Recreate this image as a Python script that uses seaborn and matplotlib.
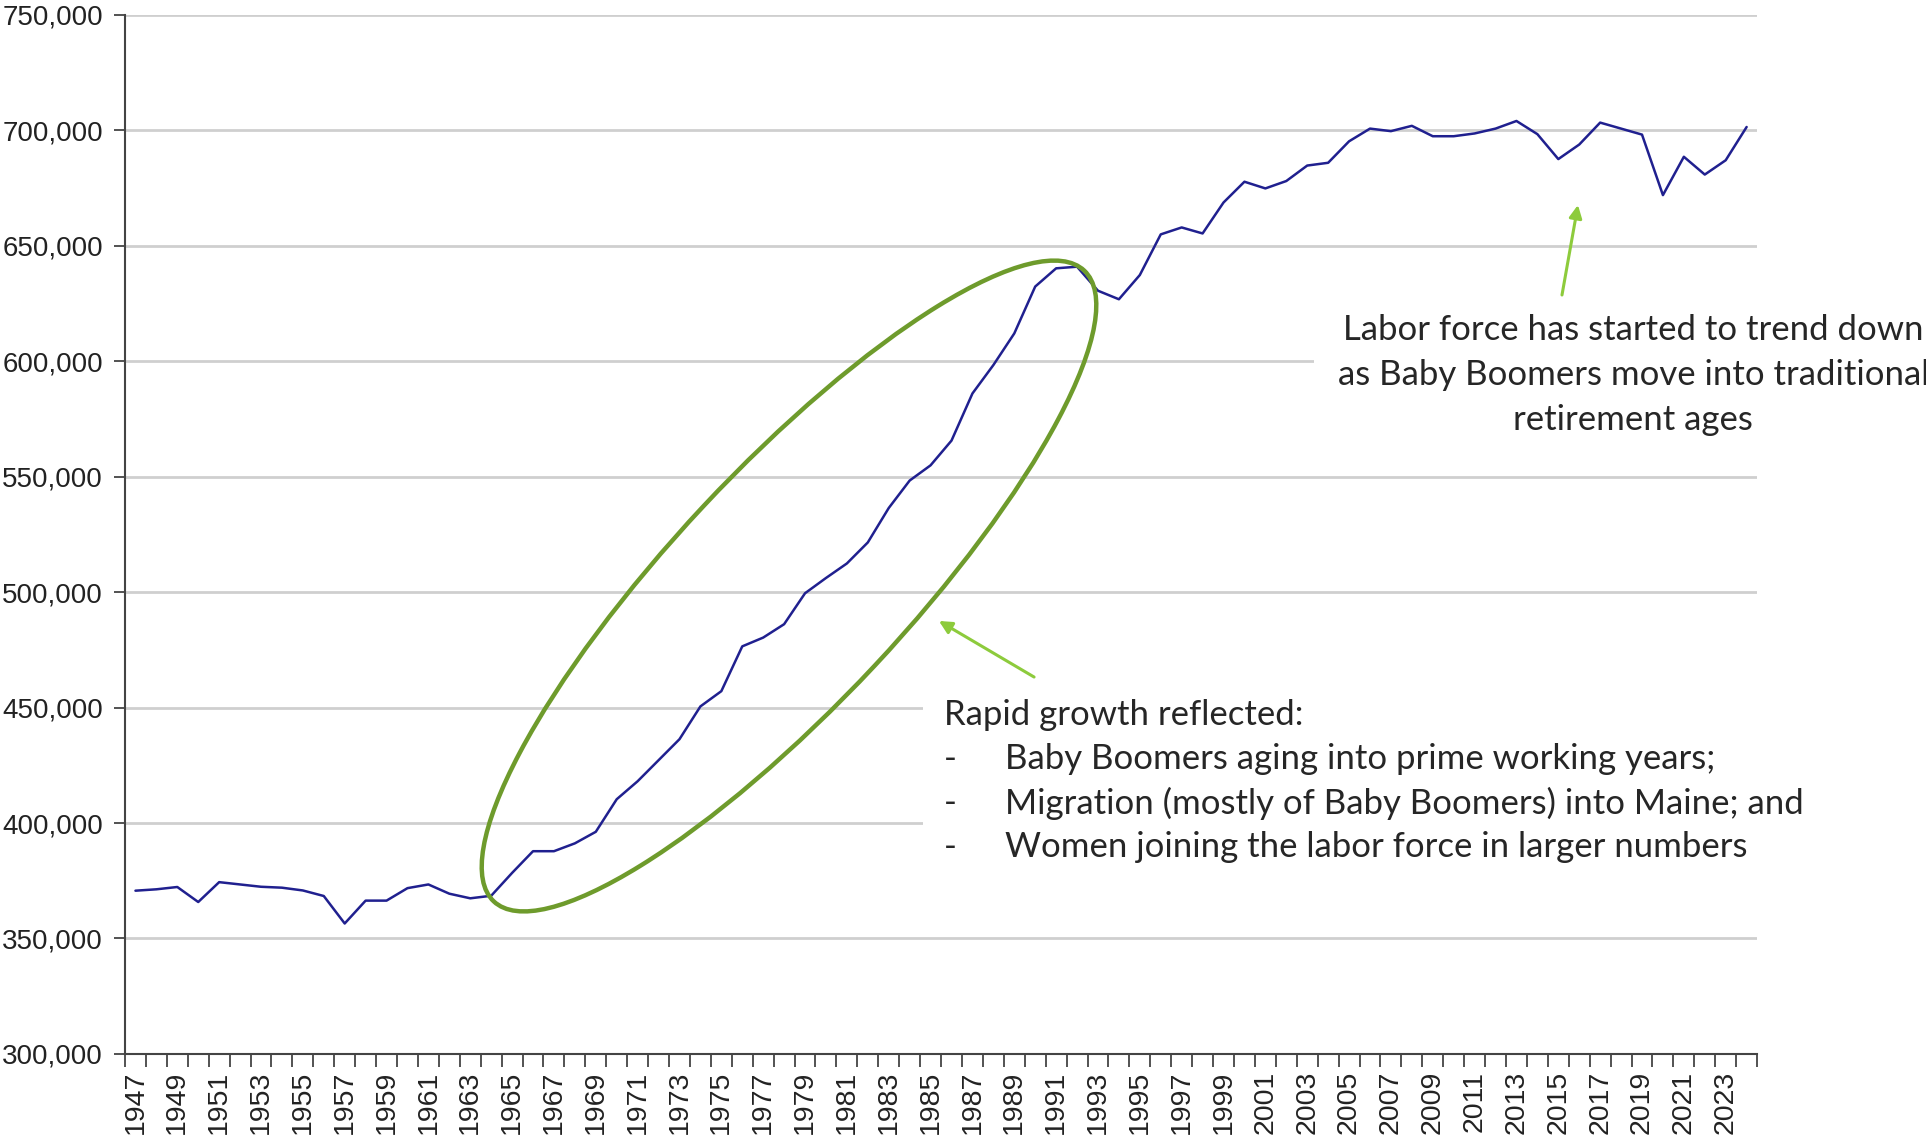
import numpy as np
import pandas as pd
import matplotlib
matplotlib.use("Agg")
import matplotlib.pyplot as plt
import seaborn as sns
from matplotlib.patches import Ellipse, Rectangle
from matplotlib.ticker import FuncFormatter

# Maine civilian labor force, annual
years = list(range(1947, 2025))
labor_force = [
    370700, 371300, 372300, 365800, 374400, 373400, 372400, 372000, 370800, 368400,
    356500, 366400, 366400, 371800, 373400, 369400, 367400, 368500, 378400, 387800,
    387800, 391200, 396200, 410300, 418100, 427200, 436300, 450500, 457100, 476500,
    480300, 486100, 499500, 506100, 512400, 521500, 536400, 548300, 554900, 565600,
    586000, 598300, 612000, 632300, 640200, 640900, 630500, 626800, 637300, 654900,
    657900, 655300, 668700, 677700, 674800, 678000, 684700, 685900, 695200, 700700,
    699600, 701900, 697400, 697400, 698600, 700700, 704000, 698300, 687500, 693800,
    703300, 700700, 698100, 671900, 688500, 680800, 687000, 701400,
]
y_ticks = list(range(300000, 750001, 50000))
label_years = list(range(1947, 2024, 2))

growth_title = "Rapid growth reflected:"
growth_items = [
    "Baby Boomers aging into prime working years;",
    "Migration (mostly of Baby Boomers) into Maine; and",
    "Women joining the labor force in larger numbers",
]
trend_note = ("Labor force has started to trend down\n"
              "as Baby Boomers move into traditional\n"
              "retirement ages")

df = pd.DataFrame({"year": years, "labor_force": labor_force})

sns.set_style("white")
plt.rcParams["font.family"] = ["Liberation Sans", "DejaVu Sans"]

fig = plt.figure(figsize=(19.26, 11.35), dpi=100)
ax = fig.add_axes([0.0649, 0.0714, 0.8474, 0.9156])

sns.lineplot(data=df, x="year", y="labor_force", color="#20208F",
             linewidth=1.8, ax=ax, zorder=4)

ax.set_xlim(years[0] - 0.5, years[-1] + 0.5)
ax.set_ylim(y_ticks[0], y_ticks[-1])
ax.set_yticks(y_ticks)
ax.yaxis.set_major_formatter(FuncFormatter(lambda v, p: f"{v:,.0f}"))
ax.grid(axis="y", color="#cfcfcf", linewidth=2.0)
ax.set_axisbelow(True)

# ticks between categories, labels centred on every other year
ax.set_xticks(np.arange(years[0] - 0.5, years[-1] + 1.0, 1.0))
ax.set_xticklabels([])
ax.set_xticks(label_years, labels=[str(y) for y in label_years], minor=True)
ax.tick_params(axis="x", which="major", length=9, width=1.3, color="#444444",
               direction="out", bottom=True)
ax.tick_params(axis="x", which="minor", length=0, labelrotation=90,
               labelsize=20.5, pad=12, labelcolor="#222222")
ax.tick_params(axis="y", length=8, width=1.3, color="#444444", direction="out",
               left=True, labelsize=20, pad=8, labelcolor="#222222")

ax.set_xlabel("")
ax.set_ylabel("")
sns.despine(ax=ax)
for side in ["left", "bottom"]:
    ax.spines[side].set_color("#444444")
    ax.spines[side].set_linewidth(1.5)

# white boxes behind annotation text (hide gridlines)
ax.add_patch(Rectangle((0.479, 0.205), 0.52, 0.19, transform=fig.transFigure,
                       facecolor="white", edgecolor="none", zorder=2,
                       clip_on=False))
ax.add_patch(Rectangle((0.682, 0.620), 0.32, 0.125, transform=fig.transFigure,
                       facecolor="white", edgecolor="none", zorder=2,
                       clip_on=False))

# ellipse around the rapid growth period
ax.add_patch(Ellipse((7.89, 5.49), 8.64, 2.34, angle=46.9,
                     transform=fig.dpi_scale_trans, fill=False,
                     edgecolor="#6E9B2C", linewidth=3.2, zorder=5,
                     clip_on=False))

text_font = ["Lato", "DejaVu Sans"]
fig.text(0.490, 0.370, growth_title, fontsize=25, family=text_font,
         va="center", ha="left")
for i, item in enumerate(growth_items):
    yy = 0.331 - i * 0.0385
    fig.text(0.490, yy, "-", fontsize=25, family=text_font, va="center",
             ha="left")
    fig.text(0.522, yy, item, fontsize=25, family=text_font, va="center",
             ha="left")

fig.text(0.848, 0.670, trend_note, fontsize=25, family=text_font,
         va="center", ha="center", multialignment="center",
         linespacing=1.5)

arrow_style = dict(arrowstyle="-|>", color="#8DCB3C", lw=2.2,
                   mutation_scale=19, shrinkA=0, shrinkB=0)
ax.annotate("", xy=(0.4875, 0.4529), xytext=(0.5369, 0.4035),
            xycoords="figure fraction", textcoords="figure fraction",
            arrowprops=arrow_style, annotation_clip=False, zorder=6)
ax.annotate("", xy=(0.8193, 0.8194), xytext=(0.8110, 0.7401),
            xycoords="figure fraction", textcoords="figure fraction",
            arrowprops=arrow_style, annotation_clip=False, zorder=6)

fig.savefig("out.png", dpi=100, facecolor="white")
